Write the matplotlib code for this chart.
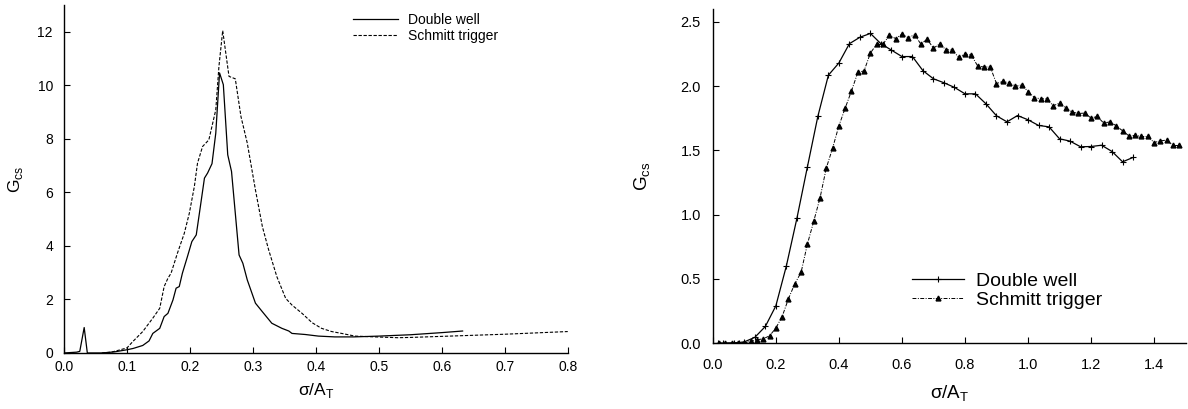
import matplotlib
matplotlib.use("Agg")
import matplotlib.pyplot as plt
import numpy as np

plt.rcParams['font.family'] = ['Liberation Sans', 'DejaVu Sans']
plt.rcParams['mathtext.fontset'] = 'custom'
plt.rcParams['mathtext.rm'] = 'Liberation Sans'

# left panel: G_cs vs sigma/A_T (lines only)
dw_x = [0, 0.02, 0.025, 0.032, 0.037, 0.06, 0.08, 0.1, 0.11, 0.125, 0.135, 0.141, 0.152,
        0.159, 0.165, 0.173, 0.178, 0.183, 0.188, 0.196, 0.203, 0.21, 0.215, 0.223, 0.228,
        0.235, 0.241, 0.247, 0.253, 0.26, 0.266, 0.278, 0.284, 0.291, 0.304, 0.315, 0.33,
        0.346, 0.357, 0.362, 0.383, 0.404, 0.43, 0.46, 0.5, 0.55, 0.6, 0.633]
dw_y = [0, 0.03, 0.06, 0.95, 0, 0, 0.04, 0.12, 0.17, 0.28, 0.45, 0.73, 0.92,
        1.36, 1.48, 1.98, 2.42, 2.48, 2.98, 3.6, 4.16, 4.41, 5.22, 6.53, 6.72,
        7.07, 8.21, 10.46, 10.02, 7.4, 6.78, 3.66, 3.35, 2.73, 1.86, 1.54, 1.11,
        0.92, 0.82, 0.73, 0.69, 0.63, 0.6, 0.6, 0.63, 0.68, 0.76, 0.82]

st_x = [0.06, 0.075, 0.088, 0.1, 0.109, 0.125, 0.141, 0.152, 0.159, 0.165, 0.17, 0.18,
        0.191, 0.199, 0.207, 0.212, 0.22, 0.23, 0.241, 0.246, 0.252, 0.262, 0.272, 0.281,
        0.291, 0.304, 0.315, 0.325, 0.338, 0.352, 0.362, 0.378, 0.394, 0.409, 0.425, 0.441,
        0.462, 0.494, 0.53, 0.55, 0.6, 0.65, 0.7, 0.75, 0.8]
st_y = [0, 0.03, 0.11, 0.19, 0.42, 0.8, 1.3, 1.67, 2.48, 2.79, 2.98, 3.72,
        4.47, 5.22, 6.22, 7.09, 7.71, 7.96, 9.08, 10.7, 12.04, 10.33, 10.24, 8.83,
        7.84, 6.09, 4.72, 3.85, 2.85, 2.04, 1.79, 1.48, 1.13, 0.92, 0.8, 0.73,
        0.63, 0.6, 0.57, 0.58, 0.62, 0.66, 0.7, 0.75, 0.8]

# right panel: with markers
dw2_x = [1/60, 1/30, 1/15, 1/12, 0.1, 0.1333, 0.1667, 0.2, 0.2333, 0.2667, 0.3, 0.3333,
         0.3667, 0.4, 0.4333, 0.4667, 0.5, 0.5333, 0.5667, 0.6, 0.6333, 0.6667, 0.7,
         0.7333, 0.7667, 0.8, 0.8333, 0.8667, 0.9, 0.9333, 0.9667, 1.0, 1.0333, 1.0667,
         1.1, 1.1333, 1.1667, 1.2, 1.2333, 1.2667, 1.3, 1.3333]
dw2_y = [0, 0, 0.003, 0.005, 0.01, 0.045, 0.13, 0.29, 0.6, 0.97, 1.37, 1.765,
         2.085, 2.18, 2.33, 2.38, 2.41, 2.33, 2.28, 2.23, 2.23, 2.12, 2.057,
         2.026, 1.99, 1.94, 1.94, 1.862, 1.769, 1.722, 1.771, 1.738, 1.694, 1.683,
         1.59, 1.572, 1.528, 1.53, 1.54, 1.491, 1.411, 1.445]

st2_x = [0.02, 0.04, 0.06, 0.08, 0.10, 0.12, 0.14, 0.16, 0.18, 0.20, 0.22, 0.24, 0.26,
         0.28, 0.30, 0.32, 0.34, 0.36, 0.38, 0.40, 0.42, 0.44, 0.46, 0.48, 0.50, 0.52,
         0.54, 0.56, 0.58, 0.60, 0.62, 0.64, 0.66, 0.68, 0.70, 0.72, 0.74, 0.76, 0.78,
         0.80, 0.82, 0.84, 0.86, 0.88, 0.90, 0.92, 0.94, 0.96, 0.98, 1.00, 1.02, 1.04,
         1.06, 1.08, 1.10, 1.12, 1.14, 1.16, 1.18, 1.20, 1.22, 1.24, 1.26, 1.28, 1.30,
         1.32, 1.34, 1.36, 1.38, 1.40, 1.42, 1.44, 1.46, 1.48]
st2_y = [0, 0, 0, 0.002, 0.005, 0.013, 0.026, 0.034, 0.057, 0.117, 0.207, 0.345, 0.462,
         0.55, 0.77, 0.947, 1.128, 1.362, 1.517, 1.691, 1.829, 1.963, 2.106, 2.119, 2.257, 2.327,
         2.327, 2.394, 2.37, 2.404, 2.376, 2.40, 2.327, 2.365, 2.295, 2.329, 2.282, 2.282, 2.223,
         2.251, 2.241, 2.158, 2.148, 2.15, 2.02, 2.036, 2.026, 1.997, 2.01, 1.958, 1.911, 1.901,
         1.901, 1.847, 1.868, 1.829, 1.798, 1.787, 1.79, 1.751, 1.764, 1.712, 1.722, 1.691, 1.652,
         1.613, 1.616, 1.608, 1.608, 1.561, 1.574, 1.58, 1.538, 1.538]

fig = plt.figure(figsize=(11.88, 4.09), dpi=100)
ax1 = fig.add_axes([0.0539, 0.137, 0.424, 0.851])
ax2 = fig.add_axes([0.600, 0.161, 0.398, 0.817])

for ax in (ax1, ax2):
    ax.spines['top'].set_visible(False)
    ax.spines['right'].set_visible(False)
    ax.spines['left'].set_linewidth(1.0)
    ax.spines['bottom'].set_linewidth(1.0)
    ax.tick_params(direction='in', length=4, width=0.8, color='black')

# left
ax1.plot(dw_x, dw_y, color='black', lw=0.9, label='Double well')
ax1.plot(st_x, st_y, color='black', lw=0.8, linestyle=(0, (3, 1.5)), label='Schmitt trigger')
ax1.set_xlim(0, 0.8)
ax1.set_ylim(0, 13)
ax1.set_xticks(np.arange(0, 0.81, 0.1))
ax1.set_xticklabels(['%.1f' % v for v in np.arange(0, 0.81, 0.1)])
ax1.set_yticks(range(0, 13, 2))
ax1.tick_params(labelsize=10)
ax1.tick_params(axis='x', pad=5)
ax1.tick_params(axis='y', pad=8)
ax1.set_xlabel(r'σ/A$_{\mathregular{T}}$', fontsize=12.5, labelpad=5)
ax1.set_ylabel(r'G$_{\mathregular{cs}}$', fontsize=12.5, labelpad=9)
ax1.legend(loc='upper left', bbox_to_anchor=(0.573, 0.978), frameon=False, fontsize=10,
           handlelength=3.3, handletextpad=0.7, borderaxespad=0, borderpad=0,
           labelspacing=0.15)

# right
ax2.plot(dw2_x, dw2_y, color='black', lw=0.9, marker='+', markersize=5, mew=0.8,
         label='Double well')
ax2.plot(st2_x, st2_y, color='black', lw=0.7, linestyle=(0, (4, 1.5, 1, 1.5)), marker='^',
         markersize=3.5, label='Schmitt trigger')
ax2.set_xlim(0, 1.5)
ax2.set_ylim(0, 2.6)
ax2.set_xticks(np.arange(0, 1.41, 0.2))
ax2.set_xticklabels(['%.1f' % v for v in np.arange(0, 1.41, 0.2)])
ax2.set_yticks(np.arange(0, 2.51, 0.5))
ax2.set_yticklabels(['%.1f' % v for v in np.arange(0, 2.51, 0.5)])
ax2.tick_params(labelsize=10.5)
ax2.tick_params(axis='x', pad=11)
ax2.tick_params(axis='y', pad=8.5)
ax2.set_xlabel(r'σ/A$_{\mathregular{T}}$', fontsize=13.5, labelpad=8)
ax2.set_ylabel(r'G$_{\mathregular{cs}}$', fontsize=13.5, labelpad=20)
ax2.legend(loc='upper left', bbox_to_anchor=(0.421, 0.213), frameon=False, fontsize=14,
           handlelength=2.7, handletextpad=0.6, borderaxespad=0, borderpad=0,
           labelspacing=0.1, numpoints=1)

fig.savefig('out.png', dpi=100)
